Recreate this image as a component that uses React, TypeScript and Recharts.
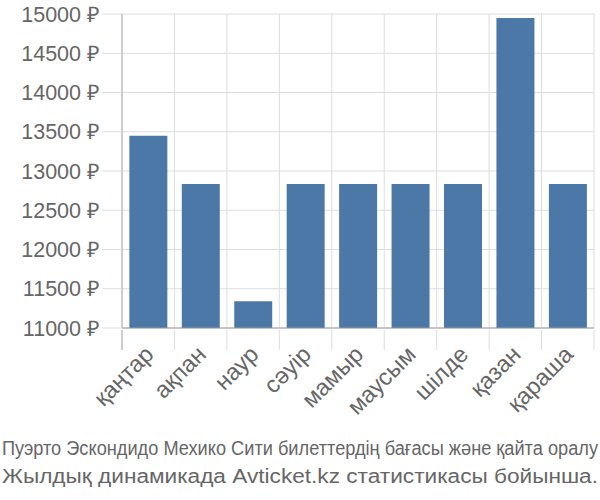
import React from 'react';
import { BarChart, Bar, XAxis, YAxis, CartesianGrid } from 'recharts';

const months = ['қаңтар', 'ақпан', 'наур', 'сәуір', 'мамыр', 'маусым', 'шілде', 'қазан', 'қараша'];
const prices = [13450, 12835, 11340, 12835, 12835, 12835, 12835, 14950, 12835];
const yTicks = [11000, 11500, 12000, 12500, 13000, 13500, 14000, 14500, 15000];
const titleLine1 = 'Пуэрто Эскондидо Мехико Сити билеттердің бағасы және қайта оралу';
const titleLine2 = 'Жылдық динамикада Avticket.kz статистикасы бойынша.';

const data = months.map((m, i) => ({ month: m, price: prices[i] }));

const W = 600;
const H = 430;
const M_LEFT = 0;
const Y_W = 122;
const M_RIGHT = 6;
const PLOT_W = W - M_LEFT - Y_W - M_RIGHT;
const STEP = PLOT_W / months.length;
const FONT = '"Liberation Sans", Arial, sans-serif';
const GRID = '#dddddd';
const AXIS = '#9a9a9a';
const TEXT = '#666666';

const XTick = (props: any) => {
  const { x, y, payload, index } = props;
  const left = x - STEP / 2;
  const right = x + STEP / 2;
  return (
    <g>
      <line x1={left} y1={y} x2={left} y2={y + 20} stroke={index === 0 ? AXIS : GRID} strokeWidth={1} />
      {index === months.length - 1 && (
        <line x1={right} y1={y} x2={right} y2={y + 20} stroke={GRID} strokeWidth={1} />
      )}
      <text
        transform={`translate(${x + 1},${y + 20}) rotate(-45)`}
        textAnchor="end"
        dy="0.35em"
        fill={TEXT}
        fontSize={23.5}
        fontFamily={FONT}
      >
        {payload.value}
      </text>
    </g>
  );
};

export default function App() {
  return (
    <div style={{ position: 'absolute', left: 0, top: 0, width: 600, height: 500, background: '#fff' }}>
      <BarChart
        width={W}
        height={H}
        data={data}
        margin={{ top: 14, right: M_RIGHT, left: M_LEFT, bottom: 0 }}
        barCategoryGap="14%"
      >
        <CartesianGrid
          stroke={GRID}
          verticalCoordinatesGenerator={({ offset }: any) =>
            months.map((_, i) => offset.left + (i + 1) * (offset.width / months.length))
          }
        />
        <XAxis
          dataKey="month"
          interval={0}
          height={H - 14 - 314}
          tickSize={0}
          tickLine={false}
          axisLine={{ stroke: AXIS }}
          tick={<XTick />}
        />
        <YAxis
          width={Y_W}
          domain={[11000, 15000]}
          ticks={yTicks}
          interval={0}
          tickSize={20}
          tickMargin={2}
          tickLine={{ stroke: GRID }}
          axisLine={{ stroke: AXIS }}
          tickFormatter={(v: number) => `${v} ₽`}
          tick={{ fill: TEXT, fontSize: 21.5, fontFamily: FONT }}
        />
        <Bar dataKey="price" fill="#4c78a8" isAnimationActive={false} />
      </BarChart>
      <svg width={600} height={70} style={{ position: 'absolute', left: 0, top: 430 }}>
        <text
          transform="translate(2,25) scale(1,1.25)"
          x={0}
          y={0}
          fill={TEXT}
          fontSize={16}
          fontFamily={FONT}
          textLength={596}
          lengthAdjust="spacingAndGlyphs"
        >
          {titleLine1}
        </text>
        <text x={2} y={53} fill={TEXT} fontSize={20} fontFamily={FONT} textLength={596} lengthAdjust="spacingAndGlyphs">
          {titleLine2}
        </text>
      </svg>
    </div>
  );
}
